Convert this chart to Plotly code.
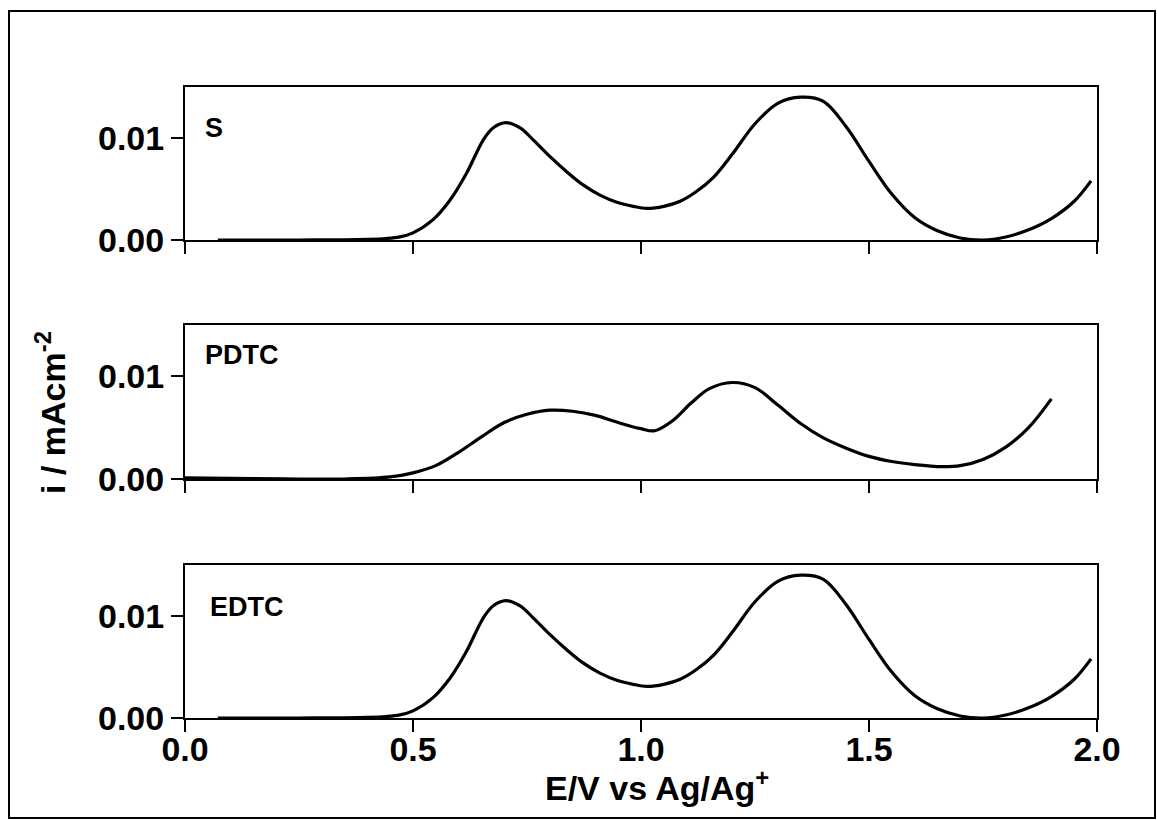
import plotly.graph_objects as go

# Anodic sweeps: potential E (V vs Ag/Ag+) and current density i (mA cm^-2)
s_E = [0.072, 0.15, 0.25, 0.35, 0.40, 0.44, 0.471, 0.50, 0.544, 0.581, 0.618, 0.654, 0.676,
       0.704, 0.735, 0.764, 0.800, 0.837, 0.873, 0.910, 0.947, 0.983, 1.013, 1.050, 1.086,
       1.12, 1.16, 1.20, 1.25, 1.30, 1.35, 1.40, 1.45, 1.50, 1.55, 1.60, 1.65, 1.70, 1.75,
       1.80, 1.85, 1.90, 1.95, 1.987]
s_i = [0.0000, 0.0000, 0.0000, 0.00002, 0.00006, 0.00014, 0.0003, 0.0007, 0.0020, 0.0039, 0.0066, 0.0098, 0.0110,
       0.0115, 0.0110, 0.0098, 0.0082, 0.0067, 0.0054, 0.0044, 0.0037, 0.0033, 0.0031, 0.0033, 0.0038,
       0.0047, 0.0062, 0.0084, 0.0114, 0.0134, 0.0140, 0.0136, 0.0111, 0.0077, 0.0045, 0.0022, 0.0009, 0.0002,
       0.0000, 0.0003, 0.0010, 0.0021, 0.0038, 0.0058]

pdtc_E = [0.000, 0.15, 0.25, 0.35, 0.45, 0.50, 0.55, 0.60, 0.65, 0.70, 0.75, 0.80,
          0.85, 0.90, 0.95, 1.00, 1.03, 1.07, 1.11, 1.15, 1.20, 1.25, 1.30, 1.35,
          1.40, 1.45, 1.50, 1.55, 1.60, 1.66, 1.70, 1.75, 1.80, 1.85, 1.90]
pdtc_i = [0.0001, 0.00005, 0.0000, 0.0000, 0.0002, 0.0006, 0.0013, 0.0026, 0.0041, 0.0055, 0.0063, 0.0067,
          0.0066, 0.0062, 0.0055, 0.0049, 0.0047, 0.0057, 0.0074, 0.0088, 0.0094, 0.0089, 0.0072, 0.0054,
          0.0040, 0.0030, 0.0022, 0.0017, 0.0014, 0.0012, 0.0013, 0.0019, 0.0031, 0.0050, 0.0078]

edtc_E = list(s_E)
edtc_i = list(s_i)

panels = [("S", s_E, s_i), ("PDTC", pdtc_E, pdtc_i), ("EDTC", edtc_E, edtc_i)]

x_ticks = [0.0, 0.5, 1.0, 1.5, 2.0]
x_tick_text = ["0.0", "0.5", "1.0", "1.5", "2.0"]
y_ticks = [0.0, 0.01]
y_tick_text = ["0.00", "0.01"]

FONT = "Liberation Sans, Arial, sans-serif"
W, H = 1157, 820
ML, MR, MT, MB = 185, 60, 87, 60
PW, PH = W - ML - MR, H - MT - MB

def py(pix):
    # pixel row -> paper y
    return (H - MB - pix) / PH

def px(pix):
    return (pix - ML) / PW

# panel vertical extents in pixels (top, bottom)
extents = [(87, 240), (325, 479), (565, 718)]
tick_font = dict(family=FONT, size=34, color="black", weight="bold")

fig = go.Figure()
for k, (name, E, I) in enumerate(panels):
    n = "" if k == 0 else str(k + 1)
    fig.add_trace(go.Scatter(x=E, y=I, mode="lines",
                             line=dict(color="black", width=3.2, shape="spline", smoothing=1.0),
                             xaxis="x" + n, yaxis="y" + n, showlegend=False, hoverinfo="skip"))
    top, bot = extents[k]
    axis_common = dict(showline=True, linecolor="black", linewidth=2, mirror=True, showgrid=False,
                       zeroline=False, ticks="outside", ticklen=12, tickwidth=2, tickcolor="black",
                       tickfont=tick_font)
    fig.layout["xaxis" + n] = dict(axis_common, domain=[0, 1], range=[0, 2.0], anchor="y" + n,
                                   tickvals=x_ticks, ticktext=x_tick_text, showticklabels=False)
    fig.layout["yaxis" + n] = dict(axis_common, domain=[py(bot), py(top)], range=[0, 0.015],
                                   anchor="x" + n, tickvals=y_ticks, ticktext=y_tick_text)

# label-only E axis sitting just under the bottom panel
fig.add_trace(go.Scatter(x=[0, 2.0], y=[0, 0], mode="markers", marker=dict(opacity=0),
                         xaxis="x4", yaxis="y3", showlegend=False, hoverinfo="skip"))
fig.layout["xaxis4"] = dict(overlaying="x3", anchor="free", position=py(726), domain=[0, 1],
                            range=[0, 2.0], showline=False, showgrid=False, zeroline=False,
                            ticks="", tickvals=x_ticks, ticktext=x_tick_text, tickfont=tick_font)

label_pos = [(203, 128), (203, 355), (208, 607)]
for (name, _, _), (lx, ly) in zip(panels, label_pos):
    fig.add_annotation(x=px(lx), y=py(ly), xref="paper", yref="paper", text=name, showarrow=False,
                       xanchor="left", yanchor="middle",
                       font=dict(family=FONT, size=27, color="black", weight="bold"))

fig.add_annotation(x=px(657), y=py(785), xref="paper", yref="paper",
                   text="E/V vs Ag/Ag<sup>+</sup>", showarrow=False, xanchor="center", yanchor="middle",
                   font=dict(family=FONT, size=34, color="black", weight="bold"))
fig.add_annotation(x=px(50), y=py(413), xref="paper", yref="paper", textangle=-90,
                   text="i / mAcm<sup>-2</sup>", showarrow=False, xanchor="center", yanchor="middle",
                   font=dict(family=FONT, size=34, color="black", weight="bold"))

# outer frame
fig.add_shape(type="rect", xref="paper", yref="paper",
              x0=px(9), x1=px(1155), y0=py(818), y1=py(11),
              line=dict(color="black", width=2), fillcolor="rgba(0,0,0,0)", layer="below")

fig.update_layout(width=W, height=H, margin=dict(l=ML, r=MR, t=MT, b=MB),
                  paper_bgcolor="white", plot_bgcolor="white")

fig.write_html("out.html")
